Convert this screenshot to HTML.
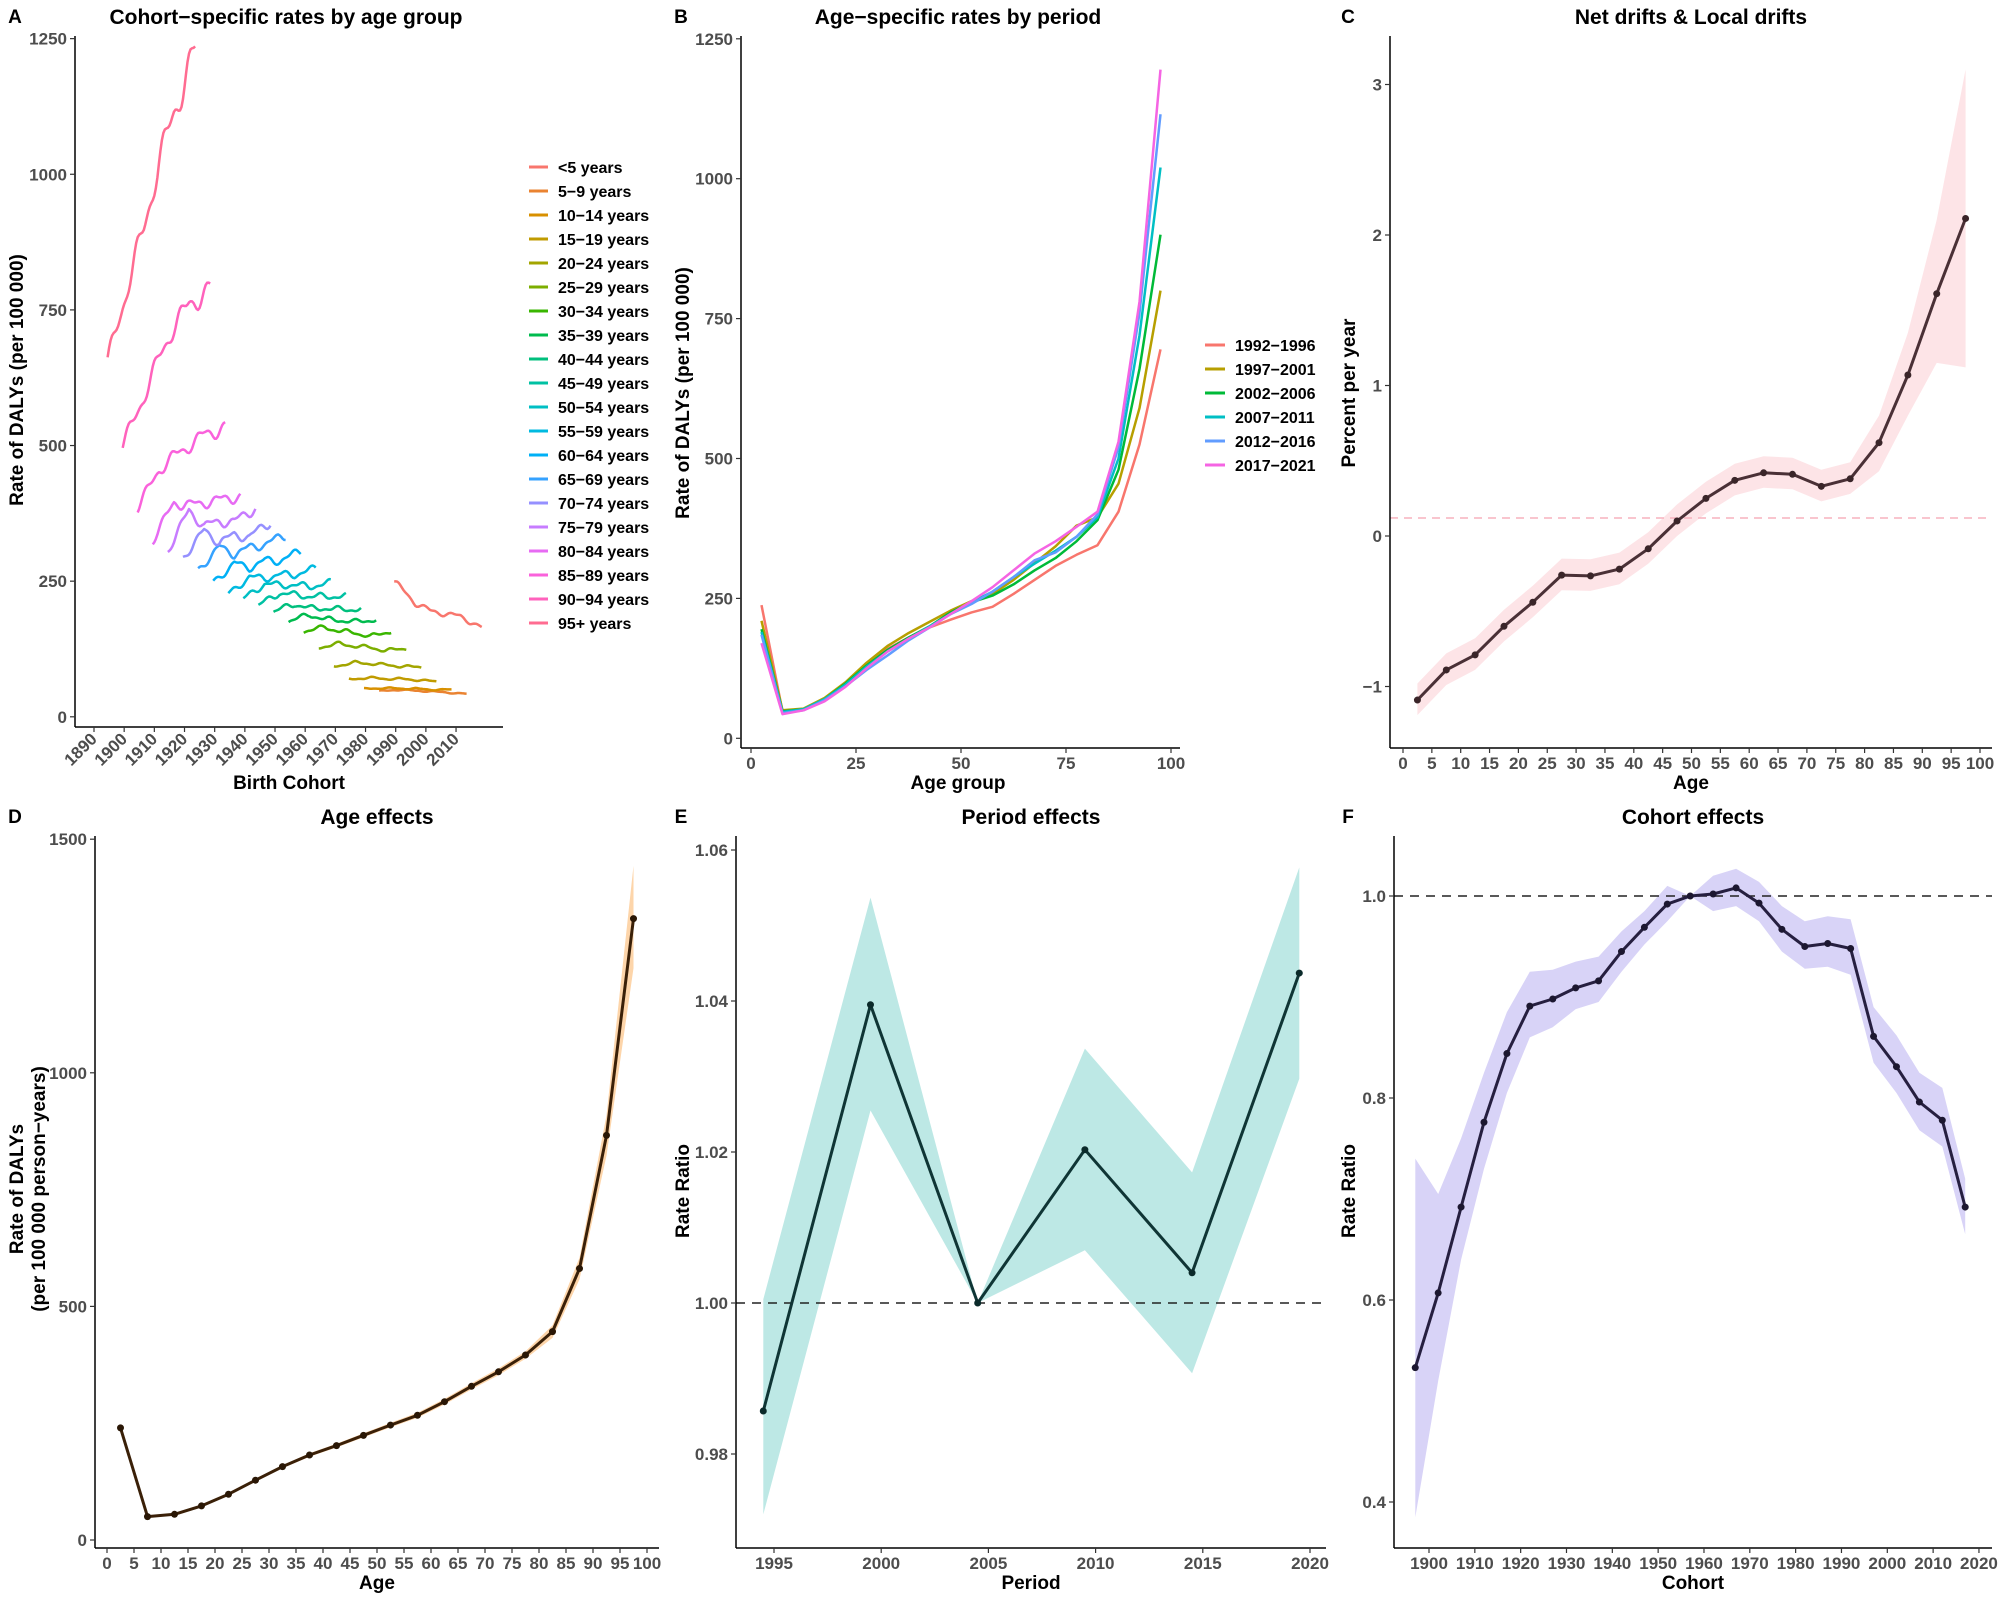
<!DOCTYPE html>
<html><head><meta charset="utf-8"><style>
html,body{margin:0;padding:0;background:#fff}
svg{display:block}
text{font-family:"Liberation Sans",Arial,sans-serif;font-weight:bold}
.tk{fill:#4d4d4d;font-size:17px}
.tt{fill:#000;font-size:21px}
.ax{fill:#000;font-size:19px}
.lg{fill:#000;font-size:16px}
.lt{fill:#000;font-size:19px}
</style></head><body>
<svg id="s" xmlns="http://www.w3.org/2000/svg" width="2002" height="1602" viewBox="0 0 2002 1602"></svg>
<script>
const S=document.getElementById('s');const NS='http://www.w3.org/2000/svg';
function el(t,a,tx){const e=document.createElementNS(NS,t);for(const k in a)e.setAttribute(k,a[k]);if(tx!==undefined)e.textContent=tx;S.appendChild(e);return e;}
function line(x1,y1,x2,y2,c,w,da){const a={x1,y1,x2,y2,stroke:c||'#000','stroke-width':w||1.5};if(da)a['stroke-dasharray']=da;return el('line',a);}
function txt(x,y,s,cls,anchor,extra){const a={x,y,class:cls,'text-anchor':anchor||'middle'};Object.assign(a,extra||{});return el('text',a,s);}
function poly(pts,c,w){return el('polyline',{points:pts.map(p=>p[0].toFixed(1)+','+p[1].toFixed(1)).join(' '),fill:'none',stroke:c,'stroke-width':w||2.5,'stroke-linejoin':'round'});}
function band(up,lo,c){const p=up.concat(lo.slice().reverse());el('polygon',{points:p.map(q=>q[0].toFixed(1)+','+q[1].toFixed(1)).join(' '),fill:c,stroke:'none'});}
function dots(pts,c,r){pts.forEach(p=>el('circle',{cx:p[0],cy:p[1],r:r||3.5,fill:c}));}
function yaxis(x,y0,y1){line(x,y0,x,y1,'#000',1.5);}
function ytick(x,y,s){line(x-5,y,x,y,'#333',1.2);txt(x-8,y+6,s,'tk','end');}
function xtick(x,y,s){line(x,y,x,y+5,'#333',1.2);txt(x,y+21,s,'tk','middle');}
function vlabel(x,y,s,cls){txt(x,y,s,cls||'ax','middle',{transform:`rotate(-90 ${x} ${y})`});}

txt(286,24,'Cohort\u2212specific rates by age group','tt');
txt(958,24,'Age\u2212specific rates by period','tt');
txt(1691,24,'Net drifts & Local drifts','tt');
txt(377,824,'Age effects','tt');
txt(1031,824,'Period effects','tt');
txt(1693,824,'Cohort effects','tt');
[['A',15,23],['B',681,23],['C',1348,23],['D',15,823],['E',681,823],['F',1348,823]].forEach(l=>txt(l[1],l[2],l[0],'lt','middle'));

const Bd=[
[238,48,52,70,95,130,160,180,198,212,225,235,258,283,308,328,345,405,525,695],
[210,50,53,72,100,135,165,188,208,228,245,258,283,313,343,380,395,455,590,800],
[195,48,52,70,98,130,158,180,200,225,243,255,275,300,322,352,390,480,660,900],
[190,47,52,70,96,128,155,178,200,222,243,262,288,312,335,360,395,500,720,1020],
[185,45,50,68,93,122,148,175,198,222,240,262,288,318,332,360,400,520,760,1115],
[170,43,50,66,92,125,155,178,198,222,245,270,300,330,352,378,405,530,780,1195]];
const Bc=['#F8766D','#B79F00','#00BA38','#00BFC4','#619CFF','#F564E3'];
const Bn=['1992\u22121996','1997\u22122001','2002\u22122006','2007\u22122011','2012\u22122016','2017\u22122021'];
const Ac=['#F8766D','#EA8331','#D89000','#C09B00','#A3A500','#7CAE00','#39B600','#00BB4E','#00BF7D','#00C1A3','#00BFC4','#00BAE0','#00B0F6','#35A2FF','#9590FF','#C77CFF','#E76BF3','#FA62DB','#FF62BC','#FF6C91'];
const An=['<5 years','5\u22129 years','10\u221214 years','15\u221219 years','20\u221224 years','25\u221229 years','30\u221234 years','35\u221239 years','40\u221244 years','45\u221249 years','50\u221254 years','55\u221259 years','60\u221264 years','65\u221269 years','70\u221274 years','75\u221279 years','80\u221284 years','85\u221289 years','90\u221294 years','95+ years'];

{const X=c=>94+(c-1890)*3.017, Y=v=>716.8-v*0.5596*0.9695;
 yaxis(75,36,727);line(75,727,503,727,'#000',1.5);
 [0,250,500,750,1000,1250].forEach(v=>ytick(75,Y(v),String(v)));
 for(let c=1890;c<=2010;c+=10){const x=X(c);line(x,727,x,732,'#333',1.2);txt(x+4,740,String(c),'tk','end',{transform:`rotate(-45 ${x+4} 740)`});}
 txt(289,789,'Birth Cohort','ax');vlabel(23,380,'Rate of DALYs (per 100 000)');
 const pm=[1994,1999,2004,2009,2014,2019];
 for(let i=0;i<20;i++){const a=2.5+5*i;const pts=[];
  for(let y=1992;y<=2021;y+=0.5){let k=Math.min(4,Math.max(0,Math.floor((y-1994)/5)));let t=(y-pm[k])/5;let v=Bd[k][i]+(Bd[k+1][i]-Bd[k][i])*t;
   v*=1+0.02*Math.sin((y-1992)*2*Math.PI/9+i*0.7)+0.01*Math.sin((y-1992)*2*Math.PI/4.3+i);pts.push([X(y-a),Y(v)]);}
  poly(pts,Ac[i],2.5);}
 for(let i=0;i<20;i++){const y=167+24*i;line(529,y,548,y,Ac[i],3);txt(558,y+6,An[i],'lg','start');}
}
{const X=a=>751+a*4.2, Y=v=>738.3-v*0.5596;
 yaxis(741,36,748);line(741,748,1180,748,'#000',1.5);
 [0,250,500,750,1000,1250].forEach(v=>ytick(741,Y(v),String(v)));
 [0,25,50,75,100].forEach(v=>xtick(X(v),748,String(v)));
 txt(958,789,'Age group','ax');vlabel(689,393,'Rate of DALYs (per 100 000)');
 for(let k=0;k<6;k++){poly(Bd[k].map((v,i)=>[X(2.5+5*i),Y(v)]),Bc[k],2.5);}
 for(let k=0;k<6;k++){const y=345+24*k;line(1205,y,1225,y,Bc[k],3);txt(1235,y+6,Bn[k],'lg','start');}
}
{const X=a=>1403+a*5.77, Y=v=>536-v*150.5;
 const m=[-1.09,-0.89,-0.79,-0.60,-0.44,-0.26,-0.265,-0.22,-0.085,0.10,0.25,0.37,0.42,0.41,0.33,0.38,0.62,1.07,1.61,2.11];
 const up=m.map((v,i)=>i<16?v+0.11:[0.8,1.35,2.1,3.1][i-16]);
 const lo=m.map((v,i)=>i<16?v-0.1:[0.43,0.8,1.15,1.12][i-16]);
 band(up.map((v,i)=>[X(2.5+5*i),Y(v)]),lo.map((v,i)=>[X(2.5+5*i),Y(v)]),'#FDE4E7');
 line(1390,Y(0.12),1992,Y(0.12),'#F7B2BE',1.5,'8,6');
 yaxis(1390,36,748);line(1390,748,1992,748,'#000',1.5);
 [-1,0,1,2,3].forEach(v=>ytick(1390,Y(v),v<0?'\u22121':String(v)));
 for(let a=0;a<=100;a+=5)xtick(X(a),748,String(a));
 txt(1691,789,'Age','ax');vlabel(1355,393,'Percent per year');
 const pts=m.map((v,i)=>[X(2.5+5*i),Y(v)]);poly(pts,'#4a3036',3);dots(pts,'#3a2529',3.5);
}
{const X=a=>107+a*5.4, Y=v=>1540-v*0.4672;
 const m=[240,50,55,73,98,128,157,182,202,224,246,267,296,329,360,396,446,581,866,1330];
 const up=m.map((v,i)=>v*(i<16?1.02:[1.03,1.04,1.05,1.085][i-16]));
 const lo=m.map((v,i)=>v*(i<16?0.98:[0.97,0.96,0.95,0.92][i-16]));
 band(up.map((v,i)=>[X(2.5+5*i),Y(v)]),lo.map((v,i)=>[X(2.5+5*i),Y(v)]),'#FDD5AA');
 yaxis(95,836,1548);line(95,1548,659,1548,'#000',1.5);
 [0,500,1000,1500].forEach(v=>ytick(95,Y(v),String(v)));
 for(let a=0;a<=100;a+=5)xtick(X(a),1548,String(a));
 txt(377,1589,'Age','ax');vlabel(23,1189,'Rate of DALYs');vlabel(45,1189,'(per 100 000 person\u2212years)');
 const pts=m.map((v,i)=>[X(2.5+5*i),Y(v)]);poly(pts,'#3a2008',3);dots(pts,'#2a1705',3.5);
}
{const X=y=>774+(y-1995)*21.44, Y=v=>1303-(v-1)*7550;
 const yr=[1994.5,1999.5,2004.5,2009.5,2014.5,2019.5];
 const m=[0.9857,1.0395,1.0,1.0203,1.0040,1.0437];
 const up=[1.0005,1.0537,1.0,1.0337,1.0173,1.0577], lo=[0.972,1.0255,1.0,1.0070,0.9907,1.0297];
 band(up.map((v,i)=>[X(yr[i]),Y(v)]),lo.map((v,i)=>[X(yr[i]),Y(v)]),'#BDE8E5');
 line(736,Y(1),1326,Y(1),'#222',1.5,'9,7');
 yaxis(736,836,1548);line(736,1548,1326,1548,'#000',1.5);
 [0.98,1.00,1.02,1.04,1.06].forEach(v=>ytick(736,Y(v),v.toFixed(2)));
 [1995,2000,2005,2010,2015,2020].forEach(v=>xtick(X(v),1548,String(v)));
 txt(1031,1589,'Period','ax');vlabel(689,1191,'Rate Ratio');
 const pts=m.map((v,i)=>[X(yr[i]),Y(v)]);poly(pts,'#0f3535',3);dots(pts,'#0b2a2a',3.5);
}
{const X=c=>1429+(c-1900)*4.583, Y=v=>896-(v-1)*1010;
 const m=[0.533,0.607,0.692,0.776,0.844,0.891,0.898,0.909,0.916,0.945,0.969,0.992,1.0,1.002,1.008,0.993,0.967,0.950,0.953,0.948,0.861,0.831,0.796,0.778,0.692];
 const up=[0.74,0.705,0.76,0.825,0.885,0.925,0.927,0.935,0.94,0.965,0.985,1.01,1.0,1.02,1.027,1.014,0.99,0.975,0.98,0.977,0.89,0.862,0.825,0.81,0.72];
 const lo=[0.385,0.52,0.64,0.73,0.805,0.86,0.87,0.888,0.895,0.925,0.952,0.975,1.0,0.985,0.99,0.975,0.945,0.928,0.93,0.922,0.835,0.805,0.768,0.752,0.665];
 const cx=i=>X(1897+5*i);
 band(up.map((v,i)=>[cx(i),Y(v)]),lo.map((v,i)=>[cx(i),Y(v)]),'#D8D3F7');
 line(1394,Y(1),1992,Y(1),'#222',1.5,'9,7');
 yaxis(1394,836,1548);line(1394,1548,1992,1548,'#000',1.5);
 [0.4,0.6,0.8,1.0].forEach(v=>ytick(1394,Y(v),v.toFixed(1)));
 for(let c=1900;c<=2020;c+=10)xtick(X(c),1548,String(c));
 txt(1693,1589,'Cohort','ax');vlabel(1355,1191,'Rate Ratio');
 const pts=m.map((v,i)=>[cx(i),Y(v)]);poly(pts,'#261f40',3);dots(pts,'#1c1730',3.5);
}
</script>
</body></html>
